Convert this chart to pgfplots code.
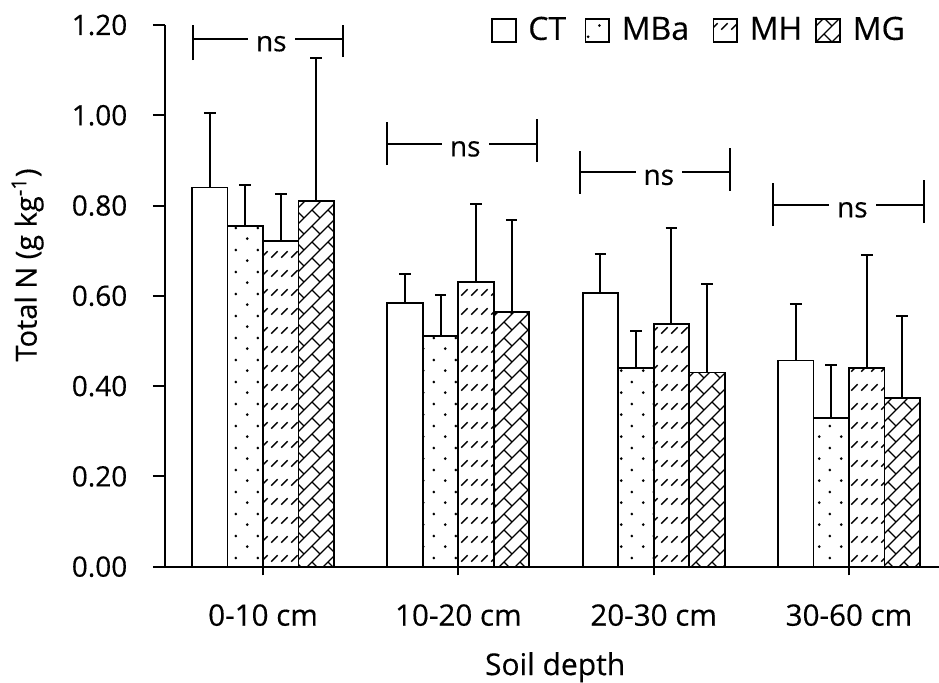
\documentclass[border=0pt]{standalone}
\usepackage{fontspec}
\setmainfont{Open Sans}[FakeBold=0.35]
\usepackage{pgfplots}
\pgfplotsset{compat=1.18}
\usetikzlibrary{patterns}

% staggered dots
\pgfdeclarepatternformonly{mbadots}{\pgfqpoint{0pt}{0pt}}{\pgfqpoint{11pt}{10.85pt}}{\pgfqpoint{11pt}{10.85pt}}{%
  \pgfpathcircle{\pgfqpoint{2.75pt}{2.7pt}}{0.75pt}%
  \pgfpathcircle{\pgfqpoint{8.25pt}{8.1pt}}{0.75pt}%
  \pgfusepath{fill}}
% short upward diagonal dashes
\pgfdeclarepatternformonly{mhdash}{\pgfqpoint{-1pt}{-1pt}}{\pgfqpoint{6pt}{10.5pt}}{\pgfqpoint{5pt}{9.5pt}}{%
  \pgfsetlinewidth{0.7pt}%
  \pgfpathmoveto{\pgfqpoint{0.6pt}{3.2pt}}%
  \pgfpathlineto{\pgfqpoint{3.8pt}{6.4pt}}%
  \pgfusepath{stroke}}
% diagonal brick
\pgfdeclarepatternformonly{mgbrick}{\pgfqpoint{-1pt}{-1pt}}{\pgfqpoint{9pt}{9pt}}{\pgfqpoint{8pt}{8pt}}{%
  \pgfsetlinewidth{0.7pt}%
  \pgfpathmoveto{\pgfqpoint{0pt}{0pt}}\pgfpathlineto{\pgfqpoint{8pt}{8pt}}%
  \pgfpathmoveto{\pgfqpoint{8pt}{0pt}}\pgfpathlineto{\pgfqpoint{4pt}{4pt}}%
  \pgfusepath{stroke}}

\pgfplotsset{
  nbar/.style={draw=black, line width=0.9pt,
    legend image code/.code={\draw[##1, line width=0.9pt] (0pt,-5.9pt) rectangle (11.8pt,5.9pt);},
    error bars/y dir=plus, error bars/y explicit,
    error bars/error bar style={line width=1pt, black},
    error bars/error mark options={rotate=90, mark size=2.9pt, line width=1pt, black}},
}

% "ns" bracket: left, right, mid, height
\newcommand{\nsbracket}[4]{%
  \draw[line width=1pt] (axis cs:#1,#4) -- (axis cs:#2,#4);
  \draw[line width=1pt] (axis cs:#1,#4) ++(0pt,-10.75pt) -- ++(0pt,21.5pt);
  \draw[line width=1pt] (axis cs:#2,#4) ++(0pt,-9.25pt) -- ++(0pt,21.5pt);
  \node[fill=white, inner xsep=4pt, inner ysep=1pt, anchor=base] at ([xshift=1.8pt,yshift=-6.35pt]axis cs:#3,#4) {ns};
}

\begin{document}
\fontsize{14}{16}\selectfont
\begin{tikzpicture}
\begin{axis}[
  at={(0,0)}, anchor=south west,
  scale only axis, width=387pt, height=270.85pt,
  xmin=-0.502, xmax=3.461, ymin=0, ymax=1.2,
  axis lines=left, axis line style={-, line width=1pt},
  ybar=0pt, bar width=17.75pt,
  tick align=outside, major tick length=6pt,
  tick style={line width=1pt, black},
  xtick={0,1,2,3},
  xticklabels={0-10 cm,10-20 cm,20-30 cm,30-60 cm},
  xtick style={/pgfplots/major tick length=4.3pt},
  ytick={0,0.2,0.4,0.6,0.8,1.0,1.2},
  /pgf/number format/fixed, /pgf/number format/fixed zerofill,
  /pgf/number format/precision=2, /pgf/number format/assume math mode=true,
  yticklabel style={anchor=east, inner sep=0pt, xshift=-12.65pt},
  xticklabel style={anchor=base, inner sep=0pt, yshift=-23.5pt, font=\fontsize{14.8}{16}\selectfont},
  ylabel={Total N (g kg\textsuperscript{-1})},
  xlabel={Soil depth},
  every axis y label/.style={at={(axis description cs:-0.1658,0.557)}, rotate=90, anchor=base,
    font=\fontsize{14.5}{16}\selectfont},
  every axis x label/.style={at={(axis description cs:0.504,-0.2),}, anchor=base,
    font=\fontsize{15}{16}\selectfont},
  legend columns=4,
  legend style={at={(axis description cs:0.4208,0.99)}, anchor=west, draw=none, fill=none,
    inner sep=0pt, nodes={inner sep=0pt}, font=\fontsize{16}{18}\selectfont,
    /tikz/every odd column/.append style={column sep=5.9pt},
    /tikz/every even column/.append style={column sep=0pt}},
  legend cell align=left,
]
\addplot[fill=white, nbar] coordinates {
  (0,0.840) +- (0,0.165)
  (1,0.584) +- (0,0.065)
  (2,0.607) +- (0,0.086)
  (3,0.457) +- (0,0.124)};
\addplot[fill=white, postaction={pattern=mbadots}, nbar] coordinates {
  (0,0.755) +- (0,0.091)
  (1,0.511) +- (0,0.091)
  (2,0.440) +- (0,0.083)
  (3,0.330) +- (0,0.117)};
\addplot[fill=white, postaction={pattern=mhdash}, nbar] coordinates {
  (0,0.721) +- (0,0.105)
  (1,0.631) +- (0,0.172)
  (2,0.538) +- (0,0.212)
  (3,0.440) +- (0,0.250)};
\addplot[fill=white, postaction={pattern=mgbrick}, nbar] coordinates {
  (0,0.811) +- (0,0.316)
  (1,0.564) +- (0,0.205)
  (2,0.430) +- (0,0.197)
  (3,0.373) +- (0,0.182)};
\legend{\makebox[28.1pt][l]{CT},\makebox[45.4pt][l]{MBa},\makebox[32.9pt][l]{MH},MG}
\nsbracket{-0.360}{0.408}{0.024}{1.170}
\nsbracket{0.633}{1.401}{1.017}{0.937}
\nsbracket{1.623}{2.393}{2.008}{0.874}
\nsbracket{2.613}{3.385}{2.999}{0.802}
\end{axis}
\pgfresetboundingbox
\path (-82.5pt,-57.65pt) rectangle (387pt,283.35pt);
\end{tikzpicture}
\end{document}
